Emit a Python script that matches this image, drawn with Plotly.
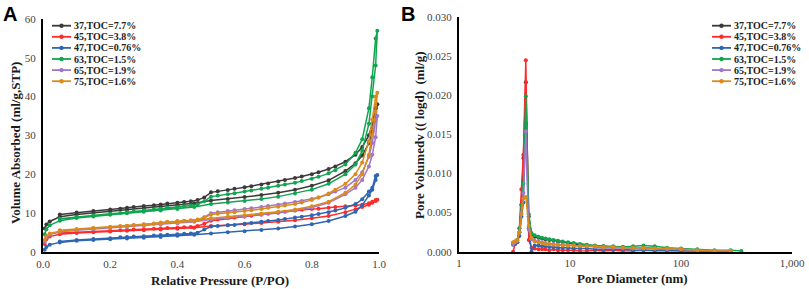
import plotly.graph_objects as go

W, H = 809, 289

# ---------------- data ----------------
series_names = ["37,TOC=7.7%", "45,TOC=3.8%", "47,TOC=0.76%", "63,TOC=1.5%", "65,TOC=1.9%", "75,TOC=1.6%"]
colors = ["#3f3a3a", "#ff2b2b", "#2f66b3", "#10a550", "#a476c6", "#d98b1c"]

# Panel A: N2 isotherms (adsorption then desorption branch)
P_ads = [0.005, 0.01, 0.02, 0.05, 0.1, 0.15, 0.2, 0.25, 0.3, 0.35, 0.4, 0.45, 0.5, 0.55, 0.6,
         0.65, 0.7, 0.75, 0.8, 0.85, 0.9, 0.93, 0.95, 0.97, 0.98, 0.99, 0.995]
P_des = [0.99, 0.98, 0.97, 0.95, 0.93, 0.9, 0.87, 0.85, 0.82, 0.8, 0.77, 0.75, 0.72, 0.7, 0.67,
         0.65, 0.62, 0.6, 0.57, 0.55, 0.52, 0.5, 0.48, 0.46, 0.44, 0.42, 0.4, 0.37, 0.35, 0.33,
         0.3, 0.27, 0.25, 0.23, 0.2, 0.15, 0.1, 0.05]

ads_37 = [6.0, 7.0, 7.8, 9.0, 9.6, 10.0, 10.4, 10.8, 11.2, 11.6, 12.0, 12.5, 13.2, 13.6, 14.1,
          14.6, 15.2, 16.0, 17.0, 18.4, 20.8, 22.8, 24.8, 28.0, 31.0, 35.0, 38.0]
des_37 = [37.0, 33.0, 30.0, 27.0, 25.0, 23.2, 22.0, 21.3, 20.5, 20.0, 19.4, 19.0, 18.5, 18.1, 17.6,
          17.3, 16.9, 16.6, 16.2, 15.9, 15.6, 15.3, 14.0, 13.3, 13.0, 12.8, 12.6, 12.4, 12.2, 12.0,
          11.8, 11.5, 11.3, 11.1, 10.9, 10.5, 10.1, 9.6]
ads_45 = [2.0, 3.2, 3.9, 4.5, 4.8, 5.0, 5.2, 5.4, 5.5, 5.7, 5.9, 6.2, 6.6, 6.8, 7.1,
          7.4, 7.7, 8.1, 8.6, 9.2, 10.2, 10.9, 11.5, 12.1, 12.6, 13.1, 13.4]
des_45 = [13.3, 12.9, 12.5, 12.1, 11.9, 11.7, 11.5, 11.3, 11.1, 11.0, 10.8, 10.6, 10.3, 10.1, 9.8,
          9.6, 9.3, 9.1, 8.8, 8.6, 8.3, 8.0, 7.2, 6.6, 6.4, 6.3, 6.2, 6.1, 6.0, 5.9,
          5.8, 5.7, 5.6, 5.5, 5.4, 5.2, 5.0, 4.8]
ads_47 = [0.5, 1.2, 1.8, 2.4, 2.8, 3.0, 3.2, 3.4, 3.6, 3.8, 4.1, 4.4, 4.7, 5.0, 5.3,
          5.6, 6.0, 6.5, 7.1, 7.9, 9.2, 10.3, 12.0, 14.5, 16.0, 18.5, 19.8]
des_47 = [19.5, 16.5, 15.5, 13.5, 12.3, 11.3, 10.6, 10.2, 9.7, 9.4, 9.0, 8.8, 8.4, 8.2, 7.9,
          7.7, 7.4, 7.2, 6.9, 6.8, 6.6, 6.5, 5.7, 4.9, 4.7, 4.6, 4.5, 4.4, 4.3, 4.2,
          4.0, 3.9, 3.8, 3.7, 3.5, 3.3, 3.0, 2.6]
ads_63 = [4.5, 5.8, 6.8, 8.0, 8.7, 9.1, 9.5, 9.9, 10.3, 10.6, 11.0, 11.5, 12.3, 12.7, 13.1,
          13.6, 14.2, 15.0, 16.0, 17.5, 20.0, 22.5, 26.0, 33.0, 40.0, 48.0, 57.0]
des_63 = [55.0, 45.0, 37.0, 29.0, 25.5, 22.5, 21.0, 20.2, 19.3, 18.8, 18.2, 17.8, 17.3, 17.0, 16.5,
          16.2, 15.8, 15.5, 15.1, 14.8, 14.5, 14.2, 13.0, 12.2, 11.9, 11.7, 11.5, 11.3, 11.1, 10.9,
          10.7, 10.4, 10.2, 10.0, 9.8, 9.4, 9.0, 8.5]
ads_65 = [2.5, 3.6, 4.4, 5.1, 5.5, 5.8, 6.1, 6.4, 6.7, 7.0, 7.3, 7.7, 8.3, 8.7, 9.1,
          9.5, 10.0, 10.6, 11.4, 12.6, 14.8, 16.5, 18.5, 22.0, 25.0, 29.5, 35.0]
des_65 = [34.0, 28.0, 24.5, 20.5, 18.5, 16.5, 15.5, 14.8, 14.0, 13.6, 13.1, 12.8, 12.4, 12.1, 11.8,
          11.5, 11.2, 11.0, 10.7, 10.5, 10.2, 9.9, 8.9, 8.2, 8.0, 7.9, 7.8, 7.6, 7.4, 7.2,
          7.0, 6.8, 6.6, 6.5, 6.3, 6.0, 5.7, 5.3]
ads_75 = [3.0, 4.0, 4.7, 5.3, 5.7, 6.0, 6.3, 6.6, 6.9, 7.2, 7.5, 7.9, 8.6, 9.0, 9.4,
          9.8, 10.3, 10.9, 11.7, 12.9, 15.2, 17.3, 20.0, 25.0, 30.0, 36.0, 41.0]
des_75 = [40.0, 34.0, 28.5, 23.0, 20.0, 17.5, 16.0, 15.0, 14.0, 13.3, 12.7, 12.3, 11.9, 11.6, 11.3,
          11.0, 10.7, 10.5, 10.2, 10.0, 9.8, 9.6, 8.8, 8.3, 8.1, 8.0, 7.9, 7.7, 7.5, 7.3,
          7.1, 6.9, 6.7, 6.6, 6.4, 6.1, 5.8, 5.5]

ads_list = [ads_37, ads_45, ads_47, ads_63, ads_65, ads_75]
des_list = [des_37, des_45, des_47, des_63, des_65, des_75]

# Panel B: pore size distribution
D_nm = [3.07, 3.2, 3.35, 3.5, 3.65, 3.8, 4.0, 4.25, 4.5, 4.8, 5.2, 5.6, 6.0, 6.5, 7.1, 7.8, 8.6,
        9.6, 10.8, 12.3, 14.2, 16.8, 20, 24.5, 30, 37, 46, 58, 75, 100, 140, 200, 280]
D_nm_63 = D_nm + [350]

psd_37 = [0.0011, 0.0012, 0.0014, 0.0025, 0.0060, 0.0120, 0.0217, 0.0045, 0.0022, 0.0019, 0.0018,
          0.0017, 0.0016, 0.0015, 0.0014, 0.0013, 0.0012, 0.0011, 0.0010, 0.0009, 0.0008, 0.0007,
          0.0007, 0.0006, 0.0006, 0.0005, 0.0005, 0.0004, 0.0003, 0.0003, 0.0002, 0.0001, 0.0001]
psd_45 = [0.0000, 0.0010, 0.0012, 0.0030, 0.0080, 0.0124, 0.0245, 0.0015, 0.0005, 0.0004, 0.0003,
          0.0003, 0.0003, 0.0002, 0.0003, 0.0002, 0.0002, 0.0002, 0.0002, 0.0001, 0.0001, 0.0002,
          0.0001, 0.0002, 0.0001, 0.0001, 0.0002, 0.0001, 0.0001, 0.0001, 0.0001, 0.0000, 0.0000]
psd_47 = [0.0009, 0.0010, 0.0012, 0.0020, 0.0045, 0.0063, 0.0164, 0.0030, 0.0000, 0.0008, 0.0008,
          0.0007, 0.0007, 0.0006, 0.0006, 0.0005, 0.0005, 0.0005, 0.0004, 0.0004, 0.0004, 0.0003,
          0.0003, 0.0003, 0.0003, 0.0002, 0.0002, 0.0002, 0.0002, 0.0001, 0.0001, 0.0001, 0.0000]
psd_63 = [0.0011, 0.0013, 0.0015, 0.0030, 0.0060, 0.0087, 0.0199, 0.0048, 0.0024, 0.0021, 0.0019,
          0.0018, 0.0017, 0.0016, 0.0015, 0.0014, 0.0013, 0.0012, 0.0011, 0.0010, 0.0009, 0.0008,
          0.0007, 0.0007, 0.0006, 0.0007, 0.0008, 0.0007, 0.0005, 0.0004, 0.0003, 0.0002, 0.0002, 0.0001]
psd_65 = [0.0010, 0.0012, 0.0014, 0.0025, 0.0050, 0.0075, 0.0154, 0.0028, 0.0016, 0.0014, 0.0013,
          0.0012, 0.0011, 0.0010, 0.0010, 0.0009, 0.0009, 0.0008, 0.0008, 0.0007, 0.0007, 0.0006,
          0.0005, 0.0005, 0.0005, 0.0004, 0.0004, 0.0004, 0.0003, 0.0003, 0.0002, 0.0001, 0.0001]
psd_75 = [0.0012, 0.0013, 0.0015, 0.0025, 0.0048, 0.0068, 0.0070, 0.0033, 0.0018, 0.0013, 0.0012,
          0.0011, 0.0010, 0.0010, 0.0009, 0.0009, 0.0008, 0.0008, 0.0008, 0.0007, 0.0007, 0.0007,
          0.0006, 0.0006, 0.0005, 0.0005, 0.0005, 0.0004, 0.0004, 0.0003, 0.0002, 0.0001, 0.0001]
psd_list = [psd_37, psd_45, psd_47, psd_63, psd_65, psd_75]
psd_x = [D_nm, D_nm, D_nm, D_nm_63, D_nm, D_nm]

x_ticks_A = [0.0, 0.2, 0.4, 0.6, 0.8, 1.0]
y_ticks_A = [0, 10, 20, 30, 40, 50, 60]
x_ticks_B = [1, 10, 100, 1000]
x_ticktext_B = ["1", "10", "100", "1,000"]
y_ticks_B = [0.000, 0.005, 0.010, 0.015, 0.020, 0.025, 0.030]

# ---------------- figure ----------------
SERIF = "Liberation Serif, Times New Roman, serif"
fig = go.Figure()

for name, col, a, d in zip(series_names, colors, ads_list, des_list):
    fig.add_trace(go.Scatter(
        x=P_ads + P_des, y=a + d, mode="lines+markers", name=name,
        line=dict(color=col, width=1.5), marker=dict(color=col, size=4),
        xaxis="x", yaxis="y", showlegend=False, cliponaxis=False))

for name, col, xs, ys in zip(series_names, colors, psd_x, psd_list):
    fig.add_trace(go.Scatter(
        x=xs, y=ys, mode="lines+markers", name=name,
        line=dict(color=col, width=1.5), marker=dict(color=col, size=4),
        xaxis="x2", yaxis="y2", showlegend=False, cliponaxis=False))

def px(xp):
    return xp / W

def py(yp):
    return 1 - yp / H

tickfont = dict(family=SERIF, size=11, color="#444444")
axis_common = dict(showline=True, linecolor="black", linewidth=2, showgrid=False,
                   zeroline=False, ticks="", tickfont=tickfont, automargin=False)

fig.update_layout(
    width=W, height=H, margin=dict(l=0, r=0, t=0, b=0, autoexpand=False),
    paper_bgcolor="white", plot_bgcolor="white", showlegend=False,
    xaxis=dict(domain=[px(43), px(379)], range=[0, 1.0], tickvals=x_ticks_A,
               tickformat=".1f", anchor="y", ticklabelstandoff=1, **axis_common),
    yaxis=dict(domain=[py(251.7), py(19)], range=[0, 60], tickvals=y_ticks_A,
               anchor="x", ticklabelstandoff=3, **axis_common),
    xaxis2=dict(domain=[px(459), px(792)], type="log", range=[0, 3], tickvals=x_ticks_B,
                ticktext=x_ticktext_B, anchor="y2", ticklabelstandoff=0, **axis_common),
    yaxis2=dict(domain=[py(251.7), py(17.3)], range=[0, 0.030], tickvals=y_ticks_B,
                tickformat=".3f", anchor="x2", ticklabelstandoff=3, **axis_common),
)

annotations = []
shapes = []
title_font = dict(family=SERIF, size=13, color="#1a1a1a")
ann_common = dict(xref="paper", yref="paper", showarrow=False, xanchor="center", yanchor="middle")
annotations += [
    dict(text="<b>A</b>", x=px(1), y=py(1), xref="paper", yref="paper", xanchor="left",
         yanchor="top", showarrow=False, font=dict(family="Liberation Sans, Arial", size=20, color="black")),
    dict(text="<b>B</b>", x=px(399), y=py(1), xref="paper", yref="paper", xanchor="left",
         yanchor="top", showarrow=False, font=dict(family="Liberation Sans, Arial", size=20, color="black")),
    dict(text="<b>Relative Pressure (P/PO)</b>", x=px(220), y=py(280), font=title_font, **ann_common),
    dict(text="<b>Pore Diameter (nm)</b>", x=px(632), y=py(278), font=title_font, **ann_common),
    dict(text="<b>Volume Absorbed (ml/g,STP)</b>", x=px(15), y=py(143), textangle=-90,
         font=title_font, **ann_common),
    dict(text="<b>Pore Volumedv (( logd)  (ml/g)</b>", x=px(419), y=py(135), textangle=-90,
         font=title_font, **ann_common),
]

legend_font = dict(family=SERIF, size=10, color="#222222")
row_y = [25.7, 36.8, 47.9, 59.0, 70.1, 81.2]
for (lx0, lx1, tx) in [(52, 71, 72), (712, 731, 732)]:
    for name, col, ry in zip(series_names, colors, row_y):
        shapes.append(dict(type="line", xref="paper", yref="paper", x0=px(lx0), x1=px(lx1),
                           y0=py(ry), y1=py(ry), line=dict(color=col, width=1.8)))
        cx = (lx0 + lx1) / 2
        shapes.append(dict(type="circle", xref="paper", yref="paper", x0=px(cx - 2.2), x1=px(cx + 2.2),
                           y0=py(ry + 2.2), y1=py(ry - 2.2), fillcolor=col, line=dict(width=0)))
        annotations.append(dict(text="<b>" + name + "</b>", x=px(tx), y=py(ry), xref="paper", yref="paper",
                                xanchor="left", yanchor="middle", showarrow=False, font=legend_font))

fig.update_layout(annotations=annotations, shapes=shapes)
fig.write_html("out.html", config={"displayModeBar": False},
               post_script="document.body.style.margin='0';document.body.style.overflow='hidden';")
